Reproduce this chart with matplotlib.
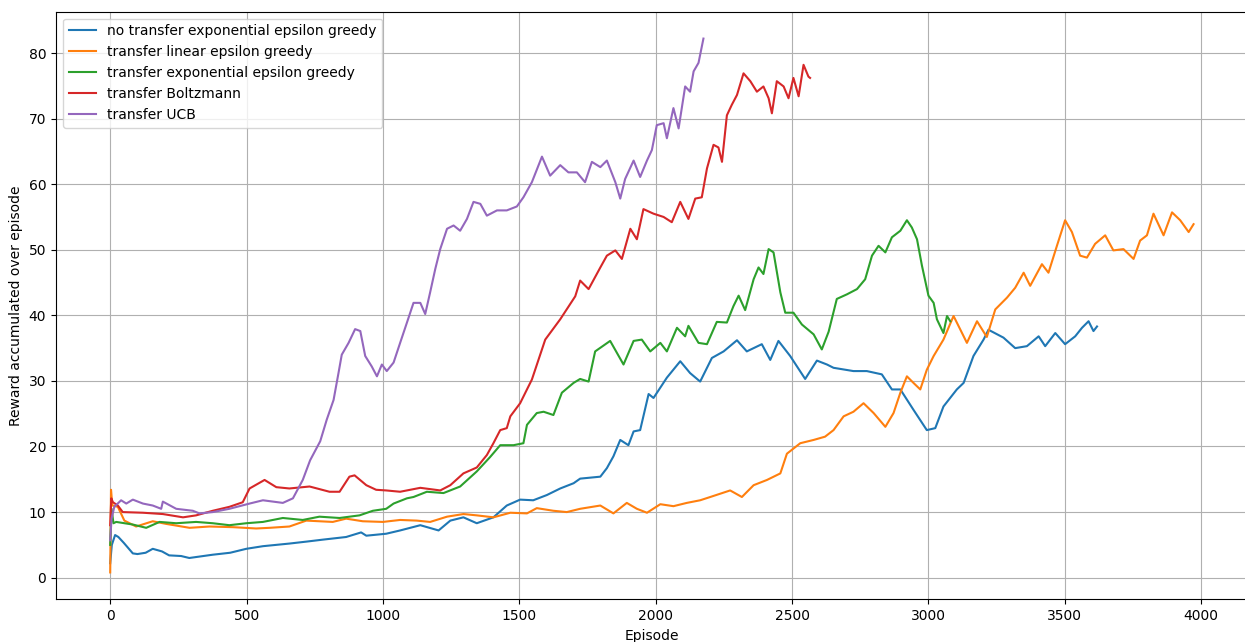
"""
Reward accumulated per episode for the transfer / exploration strategies.

Plots the smoothed learning curves of the five agents on one axis.
"""
import matplotlib

matplotlib.use("Agg")
import matplotlib.pyplot as plt

# no transfer, exponential epsilon greedy
no_transfer_exp_ep = [
    0, 6, 18, 30, 50, 83, 100, 130, 156, 190, 216, 260, 290, 376, 440, 499, 560,
    657, 720, 780, 865, 920, 939, 1012, 1063, 1137, 1204, 1247, 1295, 1344, 1405,
    1454, 1503, 1551, 1601, 1650, 1699, 1723, 1797, 1821, 1845, 1870, 1900, 1919,
    1943, 1974, 1992, 2041, 2090, 2126, 2163, 2206, 2249, 2298, 2334, 2389, 2420,
    2450, 2493, 2548, 2591, 2628, 2652, 2725, 2774, 2829, 2866, 2897, 2945, 2994,
    3025, 3055, 3104, 3129, 3165, 3202, 3220, 3275, 3318, 3361, 3404, 3428, 3465,
    3501, 3538, 3563, 3587, 3605, 3618,
]
no_transfer_exp_reward = [
    2.2, 5.0, 6.5, 6.2, 5.3, 3.7, 3.6, 3.8, 4.4, 4.0, 3.4, 3.3, 3.0, 3.5, 3.8, 4.4, 4.8,
    5.2, 5.5, 5.8, 6.2, 6.9, 6.4, 6.7, 7.2, 8.0, 7.2, 8.7, 9.2, 8.3, 9.2,
    11.0, 11.9, 11.8, 12.6, 13.6, 14.4, 15.1, 15.4, 16.7, 18.5, 21.0, 20.2, 22.3,
    22.5, 28.0, 27.4, 30.5, 33.0, 31.2, 29.9, 33.5, 34.5, 36.2, 34.5, 35.6, 33.2,
    36.1, 33.8, 30.3, 33.1, 32.5, 32.0, 31.5, 31.5, 31.0, 28.7, 28.7, 25.6, 22.5,
    22.8, 26.1, 28.7, 29.7, 33.8, 36.3, 37.8, 36.6, 35.0, 35.3, 36.8, 35.3, 37.3,
    35.6, 36.8, 38.1, 39.1, 37.6, 38.3,
]

# transfer, linear epsilon greedy
linear_eps_ep = [
    0, 3, 8, 28, 52, 95, 156, 205, 291, 364, 450, 535, 584, 657, 719, 816, 865,
    926, 1000, 1063, 1124, 1173, 1235, 1295, 1344, 1405, 1467, 1528, 1564, 1625,
    1674, 1723, 1797, 1845, 1894, 1931, 1968, 2017, 2065, 2114, 2163, 2200, 2273,
    2316, 2359, 2408, 2457, 2481, 2530, 2579, 2621, 2652, 2689, 2725, 2762, 2799,
    2842, 2872, 2897, 2921, 2945, 2970, 2994, 3019, 3055, 3092, 3116, 3141, 3178,
    3214, 3245, 3288, 3318, 3349, 3373, 3416, 3440, 3471, 3501, 3526, 3556, 3581,
    3611, 3648, 3678, 3715, 3752, 3776, 3801, 3825, 3862, 3893, 3923, 3954, 3972,
]
linear_eps_reward = [
    0.8, 13.4, 11.0, 10.8, 8.7, 7.8, 8.6, 8.2, 7.6, 7.8, 7.7, 7.5, 7.6, 7.8, 8.7, 8.5, 9.0,
    8.6, 8.5, 8.8, 8.7, 8.5, 9.3, 9.7, 9.5, 9.2, 9.9, 9.8, 10.6, 10.2,
    10.0, 10.5, 11.0, 9.8, 11.4, 10.5, 9.9, 11.2, 10.9, 11.4, 11.8, 12.3, 13.3,
    12.3, 14.1, 14.9, 15.9, 18.9, 20.5, 21.0, 21.5, 22.5, 24.6, 25.3, 26.6, 25.1,
    23.0, 25.1, 28.2, 30.7, 29.7, 28.7, 31.7, 33.8, 36.3, 39.9, 37.9, 35.8, 39.1,
    36.7, 40.9, 42.7, 44.2, 46.5, 44.5, 47.8, 46.5, 50.6, 54.5, 52.7, 49.1, 48.8,
    50.9, 52.2, 49.9, 50.1, 48.6, 51.4, 52.2, 55.5, 52.2, 55.7, 54.5, 52.7, 53.9,
]

# transfer, exponential epsilon greedy
exp_eps_ep = [
    0, 5, 12, 22, 83, 132, 181, 242, 315, 376, 437, 499, 560, 633, 706, 767, 841,
    914, 963, 1012, 1039, 1088, 1112, 1161, 1222, 1283, 1344, 1393, 1430, 1479,
    1515, 1528, 1564, 1589, 1625, 1656, 1699, 1723, 1754, 1778, 1833, 1882, 1919,
    1949, 1980, 2017, 2041, 2078, 2108, 2120, 2157, 2188, 2224, 2261, 2285, 2304,
    2328, 2359, 2377, 2395, 2414, 2432, 2457, 2475, 2505, 2536, 2579, 2609, 2634,
    2664, 2701, 2738, 2768, 2793, 2817, 2842, 2866, 2897, 2921, 2939, 2958, 2976,
    3000, 3019, 3031, 3055, 3068, 3080,
]
exp_eps_reward = [
    5.0, 10.5, 8.3, 8.5, 8.1, 7.6, 8.5, 8.3, 8.5, 8.3, 8.0, 8.3, 8.5, 9.1, 8.8, 9.3, 9.1,
    9.5, 10.2, 10.5, 11.3, 12.1, 12.3, 13.1, 12.9, 13.9, 16.2, 18.4, 20.2, 20.2,
    20.5, 23.3, 25.1, 25.3, 24.8, 28.2, 29.7, 30.3, 29.9, 34.5, 36.1, 32.5, 36.1,
    36.3, 34.5, 35.8, 34.5, 38.1, 36.8, 38.4, 35.8, 35.6, 39.0, 38.9, 41.4, 43.0,
    40.8, 45.5, 47.3, 46.3, 50.1, 49.6, 43.5, 40.4, 40.4, 38.6, 37.1, 34.8, 37.5,
    42.5, 43.2, 44.0, 45.5, 49.1, 50.6, 49.6, 51.9, 52.9, 54.5, 53.4, 51.6, 47.6,
    43.0, 41.9, 39.4, 37.3, 39.9, 39.1,
]

# transfer, Boltzmann exploration
boltzmann_ep = [
    0, 4, 10, 28, 46, 120, 193, 267, 315, 376, 437, 486, 511, 566, 609, 657, 731,
    804, 841, 877, 896, 939, 975, 1012, 1063, 1137, 1210, 1247, 1295, 1344, 1381,
    1405, 1430, 1454, 1467, 1503, 1528, 1546, 1595, 1650, 1705, 1723, 1754, 1797,
    1821, 1852, 1876, 1907, 1931, 1955, 1992, 2029, 2059, 2090, 2120, 2145, 2169,
    2188, 2212, 2230, 2243, 2261, 2279, 2298, 2322, 2347, 2371, 2395, 2414, 2426,
    2444, 2469, 2487, 2505, 2524, 2542, 2560, 2566,
]
boltzmann_reward = [
    8.0, 12.1, 11.5, 11.0, 10.0, 9.9, 9.7, 9.2, 9.5, 10.2, 10.8, 11.5, 13.6, 14.9, 13.8, 13.6, 13.9,
    13.1, 13.1, 15.4, 15.6, 14.1, 13.4, 13.3, 13.1, 13.7, 13.3, 14.1, 15.9, 16.8, 18.7,
    20.5, 22.5, 22.8, 24.6, 26.6, 28.7, 30.2, 36.3, 39.4, 42.9, 45.3, 44.0, 47.3,
    49.1, 49.9, 48.6, 53.2, 51.6, 56.2, 55.5, 55.0, 54.2, 57.3, 54.7, 57.8, 58.0,
    62.4, 66.0, 65.6, 63.4, 70.5, 72.1, 73.6, 76.9, 75.7, 74.1, 74.9, 73.1, 70.8,
    75.7, 74.9, 73.1, 76.2, 73.4, 78.2, 76.4, 76.2,
]

# transfer, UCB exploration
ucb_ep = [
    0, 5, 15, 40, 59, 83, 120, 156, 187, 193, 242, 303, 327, 376, 437, 511, 560,
    633, 670, 706, 733, 770, 794, 819, 837, 849, 874, 898, 917, 935, 959, 978,
    996, 1014, 1039, 1063, 1088, 1112, 1137, 1155, 1173, 1192, 1210, 1235, 1259,
    1283, 1308, 1332, 1357, 1381, 1418, 1454, 1491, 1515, 1546, 1583, 1613, 1650,
    1680, 1711, 1741, 1766, 1797, 1821, 1852, 1870, 1888, 1919, 1943, 1968, 1986,
    2004, 2029, 2041, 2065, 2084, 2108, 2126, 2139, 2157, 2175,
]
ucb_reward = [
    5.7, 9.0, 10.8, 11.8, 11.3, 11.9, 11.3, 11.0, 10.5, 11.6, 10.5, 10.2, 9.8, 10.0, 10.5, 11.3, 11.8,
    11.4, 12.1, 14.9, 17.9, 20.8, 24.1, 27.1, 31.2, 34.0, 35.8, 37.9, 37.6, 33.8, 32.2, 30.7,
    32.5, 31.5, 32.8, 35.8, 38.9, 41.9, 41.9, 40.2, 43.5, 47.1, 50.1, 53.2, 53.7,
    52.9, 54.7, 57.3, 57.0, 55.2, 56.0, 56.0, 56.6, 58.0, 60.3, 64.2, 61.3, 62.9,
    61.8, 61.8, 60.3, 63.4, 62.6, 63.6, 60.3, 57.8, 60.8, 63.6, 61.1, 63.6, 65.2,
    69.0, 69.3, 67.0, 71.6, 68.5, 74.9, 74.1, 77.2, 78.5, 82.2,
]

series = [
    ("no transfer exponential epsilon greedy", no_transfer_exp_ep, no_transfer_exp_reward),
    ("transfer linear epsilon greedy", linear_eps_ep, linear_eps_reward),
    ("transfer exponential epsilon greedy", exp_eps_ep, exp_eps_reward),
    ("transfer Boltzmann", boltzmann_ep, boltzmann_reward),
    ("transfer UCB", ucb_ep, ucb_reward),
]


def plot_rewards(output_path="out.png"):
    fig = plt.figure(figsize=(12.45, 6.42), dpi=100)
    # axes run slightly past the right edge of the canvas
    ax = fig.add_axes([0.045, 0.0665, 0.9572, 0.9153])

    for label, episodes, rewards in series:
        ax.plot(episodes, rewards, lw=1.5, label=label)

    ax.set_xlim(-198.6, 4170.6)
    ax.set_ylim(-3.3, 86.3)
    ax.set_xticks([0, 500, 1000, 1500, 2000, 2500, 3000, 3500, 4000])
    ax.set_xlabel("Episode")
    ax.set_ylabel("Reward accumulated over episode")
    ax.grid(True)
    ax.legend(loc="upper left")

    fig.savefig(output_path, dpi=100)


if __name__ == "__main__":
    plot_rewards()
